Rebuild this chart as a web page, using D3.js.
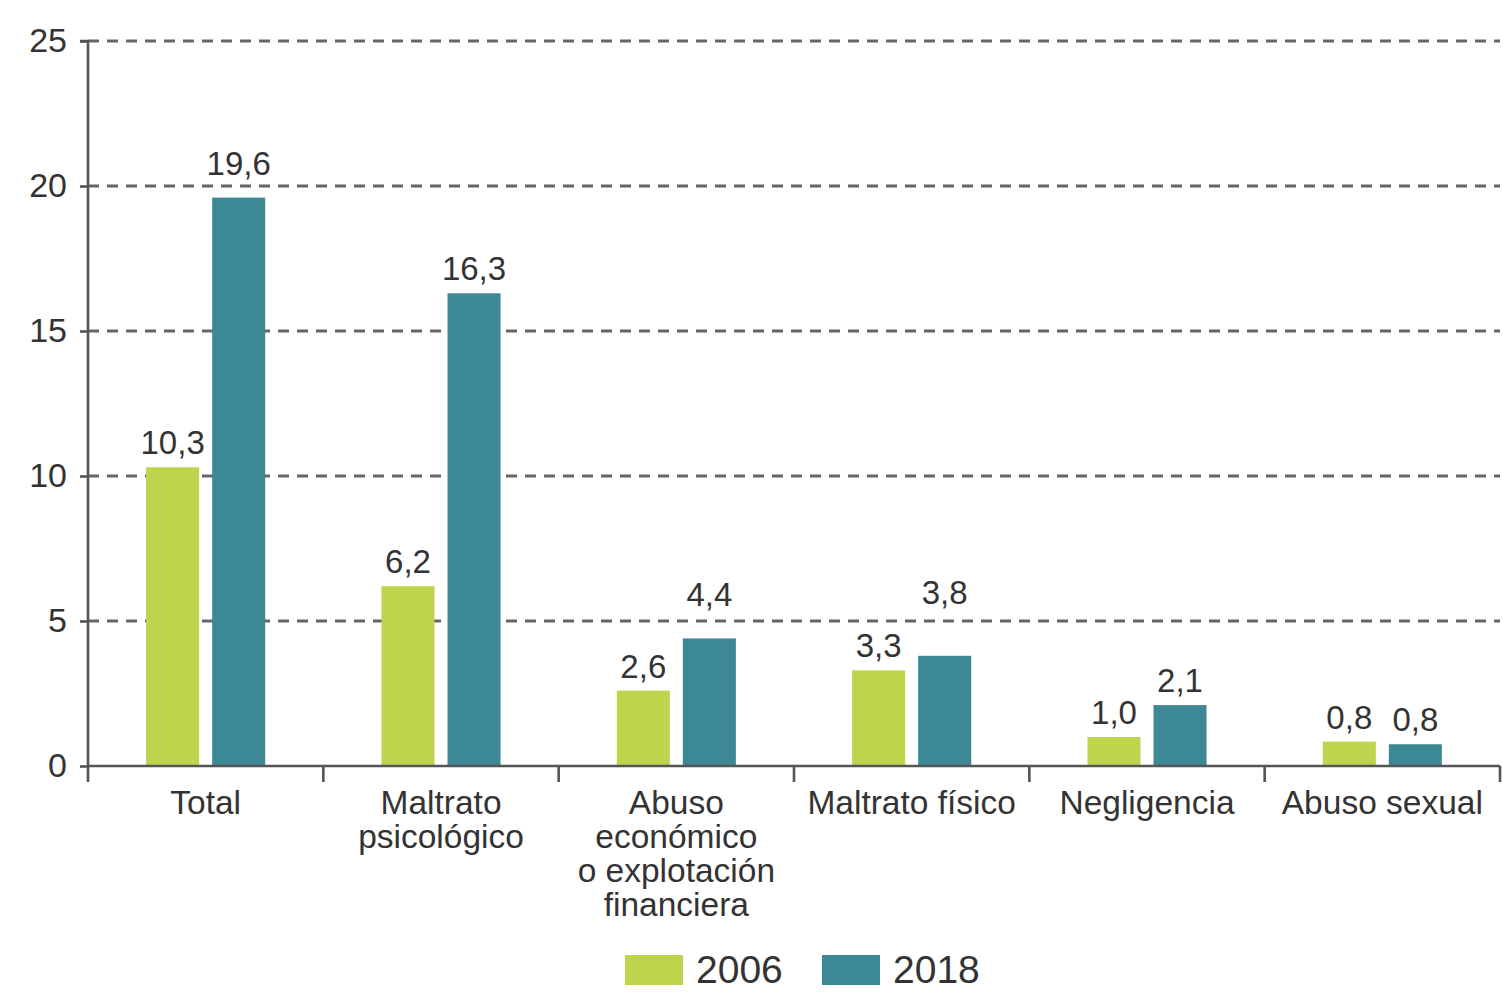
<!DOCTYPE html>
<html>
<head>
<meta charset="utf-8">
<script src="https://cdn.jsdelivr.net/npm/d3@7"></script>
<style>
  body { margin: 0; background: #fff; }
  text { font-family: "Liberation Sans", Arial, sans-serif; fill: #333; }
</style>
</head>
<body>
<svg width="1503" height="993"></svg>
<script>
const categories = [
  ['Total'],
  ['Maltrato', 'psicológico'],
  ['Abuso', 'económico', 'o explotación', 'financiera'],
  ['Maltrato físico'],
  ['Negligencia'],
  ['Abuso sexual']
];
const years = ['2006', '2018'];
const values2006 = [10.3, 6.2, 2.6, 3.3, 1.0, 0.84];
const values2018 = [19.6, 16.3, 4.4, 3.8, 2.1, 0.75];
const yTicks = [0, 5, 10, 15, 20, 25];
const colors = ['#bfd34c', '#3c8895'];

const svg = d3.select('svg');
const margin = { top: 41, right: 3, bottom: 227, left: 88 };
const width = +svg.attr('width');
const height = +svg.attr('height');
const innerWidth = width - margin.left - margin.right;
const innerHeight = height - margin.top - margin.bottom;

const keyOf = c => c.join(' ');
const data = categories.map((c, i) => ({
  key: keyOf(c),
  lines: c,
  vals: [values2006[i], values2018[i]]
}));

const x0 = d3.scaleBand()
  .domain(data.map(d => d.key))
  .range([0, innerWidth])
  .padding(0);

const x1 = d3.scaleBand()
  .domain(years)
  .range([x0.bandwidth() * 0.247, x0.bandwidth() * 0.753])
  .paddingInner(0.197);

const y = d3.scaleLinear()
  .domain([0, 25])
  .range([innerHeight, 0]);

const color = d3.scaleOrdinal().domain(years).range(colors);

const g = svg.append('g')
  .attr('transform', `translate(${margin.left},${margin.top})`);

// dashed grid
g.selectAll('.grid')
  .data(yTicks.filter(t => t > 0))
  .join('line')
  .attr('class', 'grid')
  .attr('x1', 0)
  .attr('x2', innerWidth)
  .attr('y1', d => y(d))
  .attr('y2', d => y(d))
  .attr('stroke', '#666')
  .attr('stroke-width', 2.8)
  .attr('stroke-dasharray', '11,8');

// bars
const groups = g.selectAll('.cat')
  .data(data)
  .join('g')
  .attr('class', 'cat')
  .attr('transform', d => `translate(${x0(d.key)},0)`);

groups.selectAll('rect')
  .data(d => years.map((yr, j) => ({ yr, v: d.vals[j] })))
  .join('rect')
  .attr('x', d => x1(d.yr))
  .attr('width', x1.bandwidth())
  .attr('y', d => y(d.v))
  .attr('height', d => innerHeight - y(d.v))
  .attr('fill', d => color(d.yr));

// value labels (a few were lifted by hand in the original)
const lift = { 'Total|2018': 23, 'Abuso económico o explotación financiera|2018': 32, 'Maltrato físico|2018': 52 };
groups.selectAll('.val')
  .data(d => years.map((yr, j) => ({ key: d.key, yr, v: d.vals[j] })))
  .join('text')
  .attr('class', 'val')
  .attr('x', d => x1(d.yr) + x1.bandwidth() / 2)
  .attr('y', d => y(d.v) - (lift[d.key + '|' + d.yr] || 13))
  .attr('text-anchor', 'middle')
  .attr('font-size', 33)
  .text(d => d.v.toFixed(1).replace('.', ','));

// y axis
const yAxis = d3.axisLeft(y).tickValues(yTicks).tickSize(8).tickPadding(13);
const yAxisG = g.append('g').call(yAxis);
yAxisG.select('.domain').attr('stroke', '#555').attr('stroke-width', 2.6)
  .attr('d', `M-8,0H0V${innerHeight + 16}`);
yAxisG.selectAll('.tick line').attr('stroke', '#555').attr('stroke-width', 2.6);
yAxisG.selectAll('.tick text')
  .attr('font-size', 34)
  .attr('fill', '#333')
  .attr('font-family', '"Liberation Sans", Arial, sans-serif');

// x axis: ticks at band edges
const xAxisG = g.append('g').attr('transform', `translate(0,${innerHeight})`);
xAxisG.append('line')
  .attr('x1', 0).attr('x2', innerWidth)
  .attr('stroke', '#555').attr('stroke-width', 2.6);
const edges = data.map(d => x0(d.key)).concat([innerWidth]);
xAxisG.selectAll('.edge')
  .data(edges.slice(1))
  .join('line')
  .attr('class', 'edge')
  .attr('x1', d => d).attr('x2', d => d)
  .attr('y1', 0).attr('y2', 16)
  .attr('stroke', '#555').attr('stroke-width', 2.6);

xAxisG.selectAll('.cat-label')
  .data(data)
  .join('text')
  .attr('class', 'cat-label')
  .attr('text-anchor', 'middle')
  .attr('font-size', 33.5)
  .attr('transform', d => `translate(${x0(d.key) + x0.bandwidth() / 2},0)`)
  .selectAll('tspan')
  .data(d => d.lines)
  .join('tspan')
  .attr('x', 0)
  .attr('y', (d, i) => 48 + i * 34)
  .text(d => d);

// legend
const legend = svg.append('g').attr('transform', 'translate(625,955)');
const item = legend.selectAll('.item')
  .data(years)
  .join('g')
  .attr('class', 'item')
  .attr('transform', (d, i) => `translate(${i * 197},0)`);
item.append('rect')
  .attr('width', 58).attr('height', 30)
  .attr('fill', d => color(d));
item.append('text')
  .attr('x', 71).attr('y', 28)
  .attr('font-size', 39)
  .attr('fill', '#222')
  .text(d => d);
</script>
</body>
</html>
